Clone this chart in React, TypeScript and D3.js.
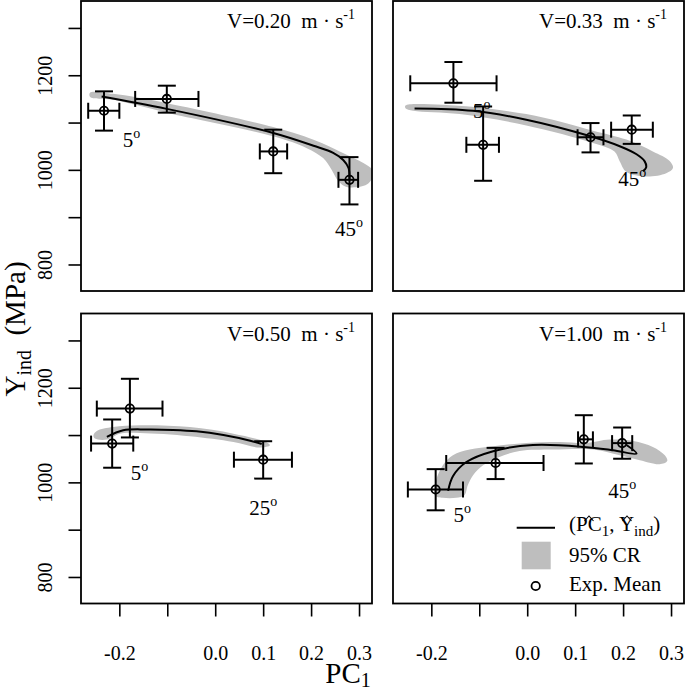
import React from "react";
import * as d3 from "d3";

const FONT = "'Liberation Serif','Times New Roman',Times,serif";

// ---------- data ----------
const speeds = ["0.20", "0.33", "0.50", "1.00"];

const xTicks = [-0.2, -0.1, 0.0, 0.1, 0.2, 0.3];
const xTickLabels = ["-0.2", "", "0.0", "0.1", "0.2", "0.3"];
const yTicks = [800, 900, 1000, 1100, 1200, 1300];
const yTickLabels = ["800", "", "1000", "", "1200", ""];

// experimental means (PC1, Y_ind) with ranges, one array per panel
const pcMean = [
  [-0.233, -0.102, 0.120, 0.279],
  [-0.155, -0.093, 0.131, 0.217],
  [-0.216, -0.179, 0.099],
  [-0.192, -0.067, 0.117, 0.197],
];
const pcLo = [
  [-0.266, -0.168, 0.092, 0.256],
  [-0.245, -0.128, 0.104, 0.174],
  [-0.260, -0.248, 0.038],
  [-0.250, -0.170, 0.105, 0.176],
];
const pcHi = [
  [-0.201, -0.036, 0.149, 0.297],
  [-0.065, -0.060, 0.158, 0.261],
  [-0.172, -0.111, 0.159],
  [-0.135, 0.033, 0.136, 0.218],
];
const yMean = [
  [1126, 1151, 1040, 980],
  [1184, 1054, 1070, 1086],
  [1083, 1157, 1049],
  [986, 1042, 1092, 1084],
];
const yLo = [
  [1084, 1122, 994, 928],
  [1143, 978, 1038, 1056],
  [1032, 1096, 1009],
  [942, 1008, 1041, 1051],
];
const yHi = [
  [1167, 1179, 1086, 1028],
  [1229, 1135, 1100, 1116],
  [1134, 1220, 1088],
  [1029, 1074, 1143, 1117],
];

// predicted path (PC1_hat, Y_hat)
const curves: [number, number][][] = [
  [[-0.238, 1156], [-0.102, 1130], [0.120, 1079], [0.204, 1052], [0.245, 1037], [0.266, 1022], [0.277, 1005], [0.279, 980]],
  [[-0.236, 1131], [-0.114, 1126], [-0.003, 1107], [0.131, 1072], [0.192, 1051], [0.227, 1034], [0.244, 1019], [0.247, 1006], [0.240, 998]],
  [[-0.227, 1097], [-0.193, 1111], [-0.144, 1113], [-0.089, 1112], [-0.040, 1109], [0.016, 1101], [0.072, 1089], [0.096, 1082]],
  [[-0.166, 983], [-0.156, 1014], [-0.128, 1044], [-0.072, 1067], [0.011, 1080], [0.117, 1076], [0.178, 1069], [0.227, 1062], [0.206, 1080]],
];

// 95% credible region outlines
const bands: [number, number][][] = [
  [[-0.262, 1164.5], [-0.214, 1161.7], [-0.102, 1142], [0.120, 1091.5], [0.204, 1064.7], [0.273, 1033], [0.308, 1015.5], [0.327, 1001], [0.329, 989], [0.315, 970], [0.273, 965], [0.256, 977], [0.242, 1001], [0.224, 1026], [0.190, 1047], [0.120, 1072], [-0.102, 1122], [-0.214, 1149], [-0.262, 1155]],
  [[-0.255, 1137], [-0.177, 1138.5], [-0.003, 1119], [0.136, 1084], [0.206, 1065], [0.261, 1040], [0.296, 1020], [0.303, 1005], [0.289, 994], [0.247, 987], [0.206, 996.5], [0.192, 1019], [0.181, 1040], [0.136, 1058], [-0.003, 1095], [-0.142, 1119], [-0.239, 1126], [-0.255, 1131.5]],
  [[-0.255, 1100.6], [-0.248, 1109.6], [-0.214, 1118], [-0.158, 1121.7], [-0.054, 1118], [0.037, 1104], [0.106, 1086], [0.113, 1079.5], [0.092, 1074.6], [0.037, 1086.4], [-0.054, 1098.5], [-0.158, 1105.4], [-0.200, 1104], [-0.227, 1091.5], [-0.252, 1093.6]],
  [[-0.194, 974], [-0.191, 1005.6], [-0.177, 1037.3], [-0.156, 1058.4], [-0.121, 1070.4], [-0.072, 1077.4], [-0.003, 1084.3], [0.067, 1086.4], [0.122, 1084.3], [0.171, 1091.5], [0.220, 1088.5], [0.261, 1076], [0.286, 1058.4], [0.291, 1046.3], [0.275, 1039.4], [0.234, 1047.8], [0.192, 1058.4], [0.136, 1070.4], [0.053, 1070.4], [-0.017, 1067.4], [-0.059, 1054.8], [-0.093, 1037.3], [-0.114, 1016.2], [-0.125, 995], [-0.132, 974], [-0.149, 968.3], [-0.177, 968.3]],
];

// angle annotations (text, PC1, Y)
const angleText = [["5", "45"], ["5", "45"], ["5", "25"], ["5", "45"]];
const angleX = [[-0.194, 0.249], [-0.114, 0.189], [-0.177, 0.070], [-0.155, 0.168]];
const angleY = [[1050, 861], [1110, 966], [1006, 932], [918, 967]];

// ---------- layout ----------
const W = 685;
const H = 689;
const PANEL_LEFT = [81, 393];
const PANEL_TOP = [1, 313.5];
const PW = 291;
const PH = 290;
const X_DOMAIN = [-0.281, 0.326];
const Y_DOMAIN = [745, 1358];
const GRAY = "#bebebe";

function Panel({ idx }: { idx: number }) {
  const col = idx % 2;
  const row = Math.floor(idx / 2);
  const x0 = PANEL_LEFT[col];
  const y0 = PANEL_TOP[row];
  const x = d3.scaleLinear().domain(X_DOMAIN).range([x0, x0 + PW]);
  const y = d3.scaleLinear().domain(Y_DOMAIN).range([y0 + PH, y0]);

  const bandPath = d3
    .line<[number, number]>()
    .x((d) => x(d[0]))
    .y((d) => y(d[1]))
    .curve(d3.curveCatmullRomClosed.alpha(0.5))(bands[idx]) as string;
  const curvePath = d3
    .line<[number, number]>()
    .x((d) => x(d[0]))
    .y((d) => y(d[1]))
    .curve(d3.curveCatmullRom.alpha(0.5))(curves[idx]) as string;

  const clipId = `clip-${idx}`;
  const sw = 2;

  return (
    <g>
      <defs>
        <clipPath id={clipId}>
          <rect x={x0} y={y0} width={PW} height={PH} />
        </clipPath>
      </defs>
      <path d={bandPath} fill={GRAY} stroke="none" clipPath={`url(#${clipId})`} />
      <path d={curvePath} fill="none" stroke="#000" strokeWidth={2} clipPath={`url(#${clipId})`} />
      {pcMean[idx].map((m, i) => {
        const cx = x(m);
        const cy = y(yMean[idx][i]);
        const xl = x(pcLo[idx][i]);
        const xh = x(pcHi[idx][i]);
        const yl = y(yLo[idx][i]);
        const yh = y(yHi[idx][i]);
        return (
          <g key={i} stroke="#000" strokeWidth={sw} fill="none">
            <line x1={xl} x2={xh} y1={cy} y2={cy} />
            <line x1={xl} x2={xl} y1={cy - 8} y2={cy + 8} />
            <line x1={xh} x2={xh} y1={cy - 8} y2={cy + 8} />
            <line x1={cx} x2={cx} y1={yl} y2={yh} />
            <line x1={cx - 9} x2={cx + 9} y1={yl} y2={yl} />
            <line x1={cx - 9} x2={cx + 9} y1={yh} y2={yh} />
            <circle cx={cx} cy={cy} r={4.2} strokeWidth={1.8} />
          </g>
        );
      })}
      {angleText[idx].map((t, i) => (
        <text
          key={i}
          x={x(angleX[idx][i])}
          y={y(angleY[idx][i])}
          fontFamily={FONT}
          fontSize={21}
          fill="#000"
        >
          {t}
          <tspan fontSize={14} dy={-9}>o</tspan>
        </text>
      ))}
      <text
        x={x0 + PW - 17}
        y={y0 + 27}
        fontFamily={FONT}
        fontSize={21}
        textAnchor="end"
        style={{ whiteSpace: "pre" }}
        fill="#000"
      >
        {`V=${speeds[idx]}  m \u00B7 s`}
        <tspan fontSize={14} dy={-9}>-1</tspan>
      </text>
      <rect x={x0} y={y0} width={PW} height={PH} fill="none" stroke="#000" strokeWidth={1.8} />
      {col === 0 &&
        yTicks.map((t, i) => (
          <g key={`yt${i}`}>
            <line x1={x0 - 12.5} x2={x0} y1={y(t)} y2={y(t)} stroke="#000" strokeWidth={1.6} />
            {yTickLabels[i] !== "" && (
              <text
                transform={`translate(52,${y(t)}) rotate(-90)`}
                textAnchor="middle"
                fontFamily={FONT}
                fontSize={20}
                fill="#000"
              >
                {yTickLabels[i]}
              </text>
            )}
          </g>
        ))}
      {row === 1 &&
        xTicks.map((t, i) => (
          <g key={`xt${i}`}>
            <line x1={x(t)} x2={x(t)} y1={y0 + PH} y2={y0 + PH + 13} stroke="#000" strokeWidth={1.6} />
            {xTickLabels[i] !== "" && (
              <text x={x(t)} y={660} textAnchor="middle" fontFamily={FONT} fontSize={20} fill="#000">
                {xTickLabels[i]}
              </text>
            )}
          </g>
        ))}
    </g>
  );
}

function Legend() {
  const lx = 569;
  return (
    <g fontFamily={FONT} fill="#000">
      <line x1={516.7} x2={555} y1={527.7} y2={527.7} stroke="#000" strokeWidth={2} />
      <rect x={521.7} y={541.7} width={29} height={27.6} fill={GRAY} />
      <circle cx={535.7} cy={586} r={4.2} fill="none" stroke="#000" strokeWidth={1.8} />
      <text x={lx} y={531} fontSize={21} style={{ whiteSpace: "pre" }}>
        (PC
        <tspan fontSize={15} dy={5}>1</tspan>
        <tspan dy={-5}>, Y</tspan>
        <tspan fontSize={15} dy={5}>ind</tspan>
        <tspan dy={-5}>)</tspan>
      </text>
      <path d="M584.5,521 L589,516 L593.5,521" fill="none" stroke="#000" strokeWidth={1.1} />
      <path d="M622.5,521 L627,516 L631.5,521" fill="none" stroke="#000" strokeWidth={1.1} />
      <text x={lx} y={561.5} fontSize={21}>95% CR</text>
      <text x={lx} y={591} fontSize={21}>Exp. Mean</text>
    </g>
  );
}

export default function App() {
  return (
    <svg
      width={W}
      height={H}
      viewBox={`0 0 ${W} ${H}`}
      style={{ position: "absolute", left: 0, top: 0, background: "#fff" }}
    >
      <rect x={0} y={0} width={W} height={H} fill="#fff" />
      {[0, 1, 2, 3].map((i) => (
        <Panel key={i} idx={i} />
      ))}
      <Legend />
      <text
        transform="translate(25,329) rotate(-90)"
        textAnchor="middle"
        fontFamily={FONT}
        fontSize={29}
        fill="#000"
        style={{ whiteSpace: "pre" }}
      >
        Y
        <tspan fontSize={20} dy={6}>ind</tspan>
        <tspan dy={-6}>{"  (MPa)"}</tspan>
      </text>
      <text x={348} y={683} textAnchor="middle" fontFamily={FONT} fontSize={29} fill="#000">
        PC
        <tspan fontSize={20} dy={4}>1</tspan>
      </text>
    </svg>
  );
}
